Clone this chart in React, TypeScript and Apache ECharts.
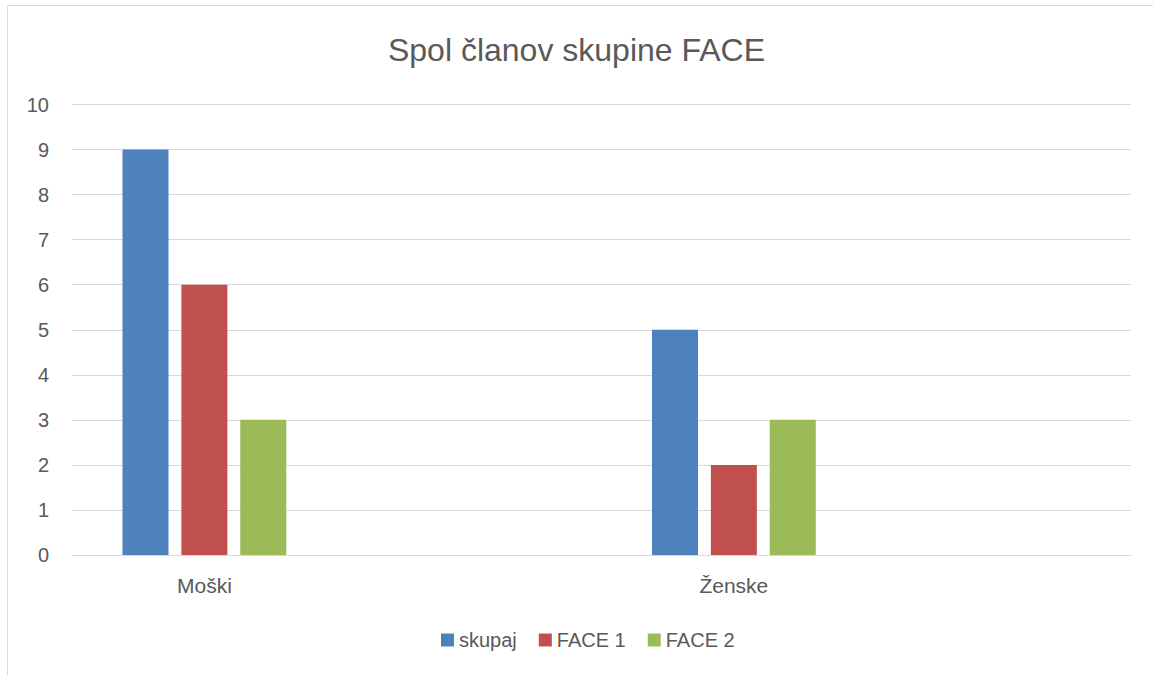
import React, { useEffect, useRef } from "react";
import * as echarts from "echarts";

const titleText = "Spol članov skupine FACE";
const categories = ["Moški", "", "Ženske", ""];
const seriesNames = ["skupaj", "FACE 1", "FACE 2"];
const skupaj = [9, null, 5, null];
const face1 = [6, null, 2, null];
const face2 = [3, null, 3, null];
const colors = ["#4f81bd", "#c0504d", "#9bbb59"];

const FONT = "'Liberation Sans', Arial, sans-serif";
const TEXT = "#595959";
const GRID = "#d9d9d9";

export default function App() {
  const ref = useRef<HTMLDivElement>(null);
  useEffect(() => {
    if (!ref.current) return;
    const chart = echarts.init(ref.current, undefined, { renderer: "svg" });
    const values = [skupaj, face1, face2];
    chart.setOption({
      animation: false,
      backgroundColor: "#ffffff",
      textStyle: { fontFamily: FONT },
      title: {
        text: titleText,
        left: "center",
        top: 29,
        textStyle: { fontFamily: FONT, fontSize: 32, fontWeight: "normal", color: TEXT },
      },
      graphic: [
        {
          type: "rect",
          silent: true,
          shape: { x: 7.5, y: 5.5, width: 1200, height: 700 },
          style: { fill: "none", stroke: GRID, lineWidth: 1 },
        },
      ],
      legend: {
        left: 436,
        top: 625,
        itemWidth: 13,
        itemHeight: 13,
        itemGap: 22,
        icon: "rect",
        textStyle: { fontFamily: FONT, fontSize: 20, color: TEXT },
        data: seriesNames,
      },
      grid: { left: 72, right: 22, top: 104.5, bottom: 120, containLabel: false },
      xAxis: {
        type: "category",
        data: categories,
        axisTick: { show: false },
        axisLine: { show: true, lineStyle: { color: GRID, width: 1 } },
        axisLabel: { margin: 20, fontFamily: FONT, fontSize: 21, color: TEXT, interval: 0 },
        splitLine: { show: false },
      },
      yAxis: {
        type: "value",
        min: 0,
        max: 10,
        interval: 1,
        axisLine: { show: false },
        axisTick: { show: false },
        axisLabel: { margin: 23, fontFamily: FONT, fontSize: 20, color: TEXT },
        splitLine: { lineStyle: { color: GRID, width: 1 } },
      },
      series: seriesNames.map((name, i) => ({
        name,
        type: "bar",
        data: values[i],
        barWidth: 46,
        barGap: "28%",
        itemStyle: { color: colors[i] },
      })),
    });
    return () => chart.dispose();
  }, []);
  return (
    <div
      ref={ref}
      style={{ position: "absolute", left: 0, top: 0, width: 1153, height: 675 }}
    />
  );
}
